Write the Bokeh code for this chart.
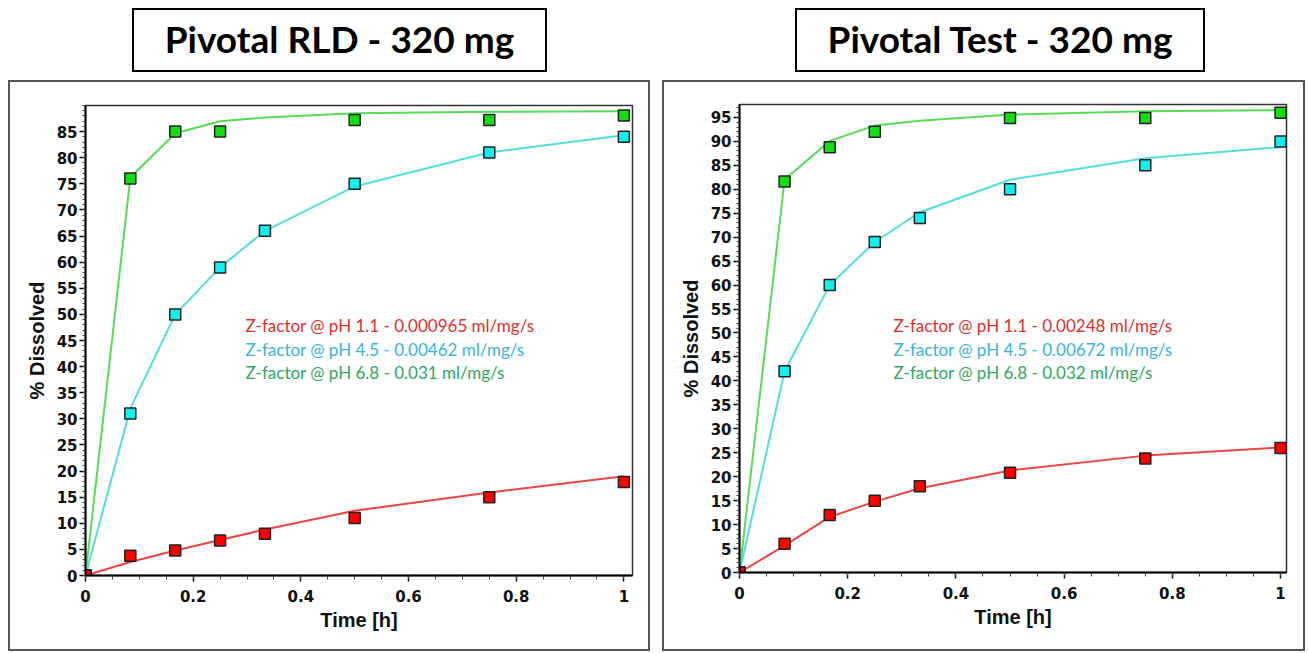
from bokeh.plotting import figure
from bokeh.models import Range1d, FixedTicker, Label, Div
from bokeh.layouts import row, column
from bokeh.embed import file_html
from bokeh.resources import INLINE

# ---------------- data ----------------
TIME_H = [0, 0.0833, 0.1667, 0.25, 0.3333, 0.5, 0.75, 1.0]
TIME_G_H = [0, 0.0833, 0.1667, 0.25, 0.5, 0.75, 1.0]

RLD_PH11_OBS = [0, 3.8, 4.8, 6.7, 8.0, 11.0, 15.0, 17.9]
RLD_PH45_OBS = [0, 31, 50, 59, 66, 75, 81, 84]
RLD_PH68_OBS = [0, 76, 85, 85, 87.2, 87.2, 88.1]
RLD_PH11_FIT = [0, 2.6, 4.8, 6.8, 8.8, 12.4, 15.9, 19.0]
RLD_PH45_FIT = [0, 32, 50, 59, 66, 74.5, 81, 84.3]
RLD_PH68_FIT = [0, 76.2, 84.7, 87.0, 87.7, 88.5, 88.8, 88.9]

TEST_PH11_OBS = [0, 6, 12, 15, 18, 20.8, 23.8, 26]
TEST_PH45_OBS = [0, 42, 60, 69, 74, 80, 85, 90]
TEST_PH68_OBS = [0, 81.6, 88.8, 92, 94.9, 94.9, 96]
TEST_PH11_FIT = [0, 5.6, 11.6, 14.8, 17.6, 21.3, 24.4, 26.1]
TEST_PH45_FIT = [0, 42, 60, 69, 75.2, 82, 86.5, 88.8]
TEST_PH68_FIT = [0, 82, 90.1, 93.3, 94.3, 95.6, 96.3, 96.5]

Y_TICKS_RLD = [0, 5, 10, 15, 20, 25, 30, 35, 40, 45, 50, 55, 60, 65, 70, 75, 80, 85]
Y_TICKS_TEST = [0, 5, 10, 15, 20, 25, 30, 35, 40, 45, 50, 55, 60, 65, 70, 75, 80, 85, 90, 95]
X_TICKS = [0, 0.2, 0.4, 0.6, 0.8, 1.0]
X_TICK_LABELS = ["0", "0.2", "0.4", "0.6", "0.8", "1"]

TITLES = ["Pivotal RLD - 320 mg", "Pivotal Test - 320 mg"]
NOTES_RLD = ["Z-factor @ pH 1.1 - 0.000965 ml/mg/s",
             "Z-factor @ pH 4.5 - 0.00462 ml/mg/s",
             "Z-factor @ pH 6.8 - 0.031 ml/mg/s"]
NOTES_TEST = ["Z-factor @ pH 1.1 - 0.00248 ml/mg/s",
              "Z-factor @ pH 4.5 - 0.00672 ml/mg/s",
              "Z-factor @ pH 6.8 - 0.032 ml/mg/s"]
X_LABEL = "Time [h]"
Y_LABEL = "% Dissolved"

# ---------------- style ----------------
MARK_FILL = ["#ff0000", "#11eeee", "#11dd11"]
LINE_COL = ["#ee4444", "#55dddd", "#55dd55"]
NOTE_COL = ["#e0302e", "#3ab4dc", "#2fa862"]
TICK_FONT = "DejaVu Sans"
LABEL_FONT = "Liberation Sans"
NOTE_FONT = "Lato"


def make_plot(cfg, obs, fits, obs_t, yticks, notes):
    W, H = cfg["W"], cfg["H"]
    fl, ft, fw, fh = cfg["fl"], cfg["ft"], cfg["fw"], cfg["fh"]
    xr, yr = cfg["xr"], cfg["yr"]

    def fx(cx):
        return (cx - fl) * xr / fw

    def fy(cy):
        return (ft + fh - cy) * yr / fh

    p = figure(width=W, height=H, x_range=Range1d(0, xr), y_range=Range1d(0, yr),
               output_backend="svg", toolbar_location=None, title=None,
               min_border_left=fl, min_border_right=W - fl - fw,
               min_border_top=ft, min_border_bottom=H - ft - fh,
               margin=cfg["margin"])
    p.styles = {"border": "2px solid #555555"}
    p.grid.visible = False
    p.background_fill_color = "white"
    p.border_fill_color = "white"
    p.outline_line_color = "#333333"
    p.outline_line_width = 1.5

    p.xaxis.ticker = FixedTicker(ticks=X_TICKS, minor_ticks=[i * 0.05 for i in range(21)])
    p.xaxis.major_label_overrides = {t: s for t, s in zip(X_TICKS, X_TICK_LABELS)}
    p.yaxis.ticker = FixedTicker(ticks=yticks, minor_ticks=list(range(0, int(yr) + 1)))
    for ax in (p.xaxis[0], p.yaxis[0]):
        ax.axis_line_color = "black"
        ax.axis_line_width = 2
        ax.major_tick_line_color = "black"
        ax.major_tick_line_width = 1.5
        ax.major_tick_in = 0
        ax.major_tick_out = 6
        ax.minor_tick_line_color = "#444444"
        ax.minor_tick_line_width = 1
        ax.minor_tick_in = 0
        ax.major_label_text_font = TICK_FONT
        ax.major_label_text_font_style = "bold"
        ax.major_label_text_font_size = "15px"
        ax.major_label_text_color = "#111111"
        ax.axis_label_text_font = LABEL_FONT
        ax.axis_label_text_font_style = "bold"
        ax.axis_label_text_font_size = "20px"
        ax.axis_label_text_color = "#111111"
    p.xaxis.minor_tick_out = 4
    p.yaxis.minor_tick_out = 3
    p.xaxis.major_label_standoff = 8
    p.yaxis.major_label_standoff = 2
    p.xaxis.axis_label = X_LABEL
    p.yaxis.axis_label = Y_LABEL
    p.xaxis.axis_label_standoff = 4
    p.yaxis.axis_label_standoff = 6

    for k in (2, 1, 0):
        p.line(TIME_H, fits[k], line_color=LINE_COL[k], line_width=2)
    for k in (2, 1, 0):
        p.scatter(obs_t[k], obs[k], marker="square", size=11,
                  fill_color=MARK_FILL[k], line_color="#222222", line_width=1.5)

    for i, (txt, col) in enumerate(zip(notes, NOTE_COL)):
        p.add_layout(Label(x=fx(cfg["nx"]), y=fy(cfg["ny"][i]), text=txt,
                           text_color=col, text_font=NOTE_FONT,
                           text_font_size="17px", text_baseline="alphabetic",
                           text_align="left"))
    return p


def make_title(text, width, margin):
    html = ('<div style="box-sizing:border-box;width:%dpx;height:64px;border:2px solid black;'
            'text-align:center;line-height:58px;font-family:Lato;font-weight:bold;'
            'font-size:37px;color:black;background:white;">%s</div>' % (width, text))
    return Div(text=html, width=width, height=64, margin=margin)


# canvas coords below are relative to each figure's canvas (inside its 2px CSS border)
CFG_L = dict(W=642, H=571, fl=75, ft=23, fw=547, fh=470, xr=1.016, yr=90,
             nx=235, ny=[243, 267, 290], margin=(0, 0, 0, 8))
CFG_R = dict(W=643, H=571, fl=75, ft=22, fw=547, fh=468, xr=1.011, yr=97.7,
             nx=229, ny=[243, 267, 290], margin=(0, 0, 0, 12))

p1 = make_plot(CFG_L, [RLD_PH11_OBS, RLD_PH45_OBS, RLD_PH68_OBS],
               [RLD_PH11_FIT, RLD_PH45_FIT, RLD_PH68_FIT],
               [TIME_H, TIME_H, TIME_G_H], Y_TICKS_RLD, NOTES_RLD)
p2 = make_plot(CFG_R, [TEST_PH11_OBS, TEST_PH45_OBS, TEST_PH68_OBS],
               [TEST_PH11_FIT, TEST_PH45_FIT, TEST_PH68_FIT],
               [TIME_H, TIME_H, TIME_G_H], Y_TICKS_TEST, NOTES_TEST)

t1 = make_title(TITLES[0], 415, (8, 0, 8, 132))
t2 = make_title(TITLES[1], 410, (8, 0, 8, 145))

layout = row(column(t1, p1), column(t2, p2))
open("out.html", "w").write(file_html(layout, INLINE))
